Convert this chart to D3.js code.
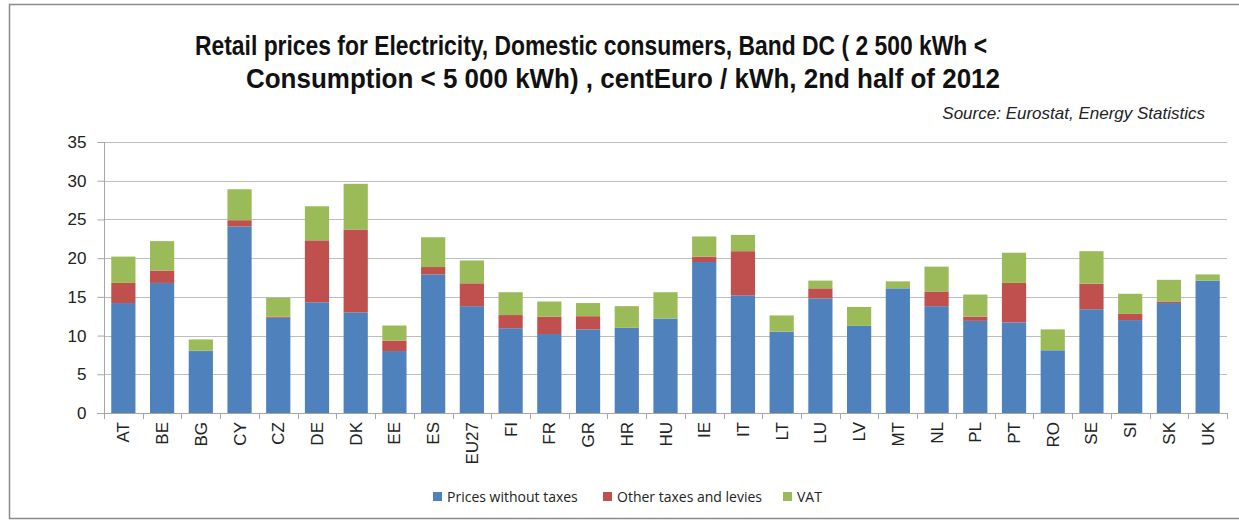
<!DOCTYPE html>
<html>
<head>
<meta charset="utf-8">
<script src="https://cdn.jsdelivr.net/npm/d3@7/dist/d3.min.js"></script>
<style>
  body { margin: 0; background: #fff; }
  svg { display: block; }
  .tick text { font-family: "Liberation Sans", Arial, sans-serif; fill: #222; }
</style>
</head>
<body>
<div id="main"></div>
<script>
// chart data (centEuro / kWh)
let countries = ['AT','BE','BG','CY','CZ','DE','DK','EE','ES','EU27','FI','FR','GR','HR','HU',
                 'IE','IT','LT','LU','LV','MT','NL','PL','PT','RO','SE','SI','SK','UK'];
let pricesWithoutTaxes = [14.2,16.8,8.0,24.1,12.3,14.3,13.0,8.0,17.9,13.8,10.95,10.2,10.8,11.0,12.2,
                          19.5,15.2,10.5,14.8,11.25,16.1,13.8,11.9,11.7,8.1,13.4,12.0,14.2,17.1];
let otherTaxes = [2.6,1.6,0.05,0.8,0.15,8.0,10.7,1.35,0.95,2.95,1.7,2.25,1.7,0,0,
                  0.7,5.7,0,1.3,0,0,1.9,0.55,5.1,0,3.3,0.8,0.2,0];
let vat = [3.4,3.8,1.45,4.0,2.45,4.4,5.9,1.95,3.85,2.95,2.95,1.95,1.7,2.8,3.4,
           2.6,2.1,2.1,1.0,2.45,0.9,3.2,2.85,3.9,2.7,4.2,2.6,2.8,0.8];
let seriesNames = ['Prices without taxes', 'Other taxes and levies', 'VAT'];
let seriesColors = ['#4f81bd', '#c0504d', '#9bbb59'];
let yTicks = [0, 5, 10, 15, 20, 25, 30, 35];

let width = 1239;
let height = 524;

let svg = d3.select('#main')
  .append('svg')
  .attr('width', width)
  .attr('height', height);

// outer frame like the pasted excel chart
svg.append('rect')
  .attr('x', 9.5).attr('y', 4.5)
  .attr('width', width + 10).attr('height', 514)
  .attr('fill', 'none')
  .attr('stroke', '#8a8a8a')
  .attr('stroke-width', 1.5);

// title
let title = svg.append('g')
  .attr('font-family', '"Liberation Sans Narrow", "Liberation Sans", Arial, sans-serif')
  .attr('font-weight', 'bold')
  .attr('font-size', 27)
  .attr('fill', '#111');

title.append('text')
  .attr('x', 195).attr('y', 55)
  .attr('textLength', 792)
  .attr('lengthAdjust', 'spacingAndGlyphs')
  .text('Retail prices for Electricity, Domestic consumers, Band DC ( 2 500 kWh <');

title.append('text')
  .attr('x', 246).attr('y', 88)
  .attr('textLength', 754)
  .attr('lengthAdjust', 'spacingAndGlyphs')
  .text('Consumption < 5 000 kWh) , centEuro / kWh, 2nd half of 2012');

svg.append('text')
  .attr('x', 1205).attr('y', 119)
  .attr('text-anchor', 'end')
  .attr('font-family', '"Liberation Sans", Arial, sans-serif')
  .attr('font-style', 'italic')
  .attr('font-size', 17)
  .attr('fill', '#222')
  .text('Source: Eurostat, Energy Statistics');

// plot area
let plotLeft = 104, plotRight = 1227, plotTop = 142, plotBottom = 413;

let x = d3.scaleBand()
  .domain(countries)
  .range([plotLeft, plotRight])
  .paddingInner(0.375)
  .paddingOuter(0.1875);

let y = d3.scaleLinear()
  .domain([0, 35])
  .range([plotBottom, plotTop]);

// gridlines
svg.append('g')
  .selectAll('line')
  .data(yTicks)
  .enter().append('line')
  .attr('x1', plotLeft).attr('x2', plotRight)
  .attr('y1', d => Math.round(y(d)) + 0.5).attr('y2', d => Math.round(y(d)) + 0.5)
  .attr('stroke', '#bdbdbd')
  .attr('stroke-width', 1.2);

// stacked bars
let rows = countries.map((c, i) => ({
  country: c,
  p0: pricesWithoutTaxes[i],
  p1: otherTaxes[i],
  p2: vat[i]
}));

let stack = d3.stack().keys(['p0', 'p1', 'p2']);
let layers = stack(rows);

svg.append('g')
  .selectAll('g')
  .data(layers)
  .enter().append('g')
  .attr('fill', (d, i) => seriesColors[i])
  .selectAll('rect')
  .data(d => d)
  .enter().append('rect')
  .attr('x', d => x(d.data.country))
  .attr('width', x.bandwidth())
  .attr('y', d => y(d[1]))
  .attr('height', d => y(d[0]) - y(d[1]));

// y axis
let yAxis = svg.append('g')
  .attr('transform', 'translate(' + (plotLeft + 0.5) + ',0)')
  .call(d3.axisLeft(y).tickValues(yTicks).tickSize(7).tickPadding(11));
yAxis.select('.domain').attr('stroke', '#a6a6a6').attr('d', 'M0,' + plotTop + 'V' + plotBottom);
yAxis.selectAll('.tick line').attr('stroke', '#a6a6a6');
yAxis.selectAll('.tick text').attr('font-size', 17);

// x axis: ticks between categories
let xTicks = d3.range(countries.length + 1).map(i => plotLeft + i * (plotRight - plotLeft) / countries.length);
let xAxisG = svg.append('g');
xAxisG.append('line')
  .attr('x1', plotLeft - 7).attr('x2', plotRight)
  .attr('y1', plotBottom + 0.5).attr('y2', plotBottom + 0.5)
  .attr('stroke', '#a6a6a6');
xAxisG.selectAll('line.tk')
  .data(xTicks)
  .enter().append('line')
  .attr('class', 'tk')
  .attr('x1', d => Math.round(d) + 0.5).attr('x2', d => Math.round(d) + 0.5)
  .attr('y1', plotBottom).attr('y2', plotBottom + 6)
  .attr('stroke', '#a6a6a6');

xAxisG.selectAll('text')
  .data(countries)
  .enter().append('text')
  .attr('transform', d => 'translate(' + (x(d) + x.bandwidth() / 2 + 6) + ',' + (plotBottom + 9) + ') rotate(-90)')
  .attr('text-anchor', 'end')
  .attr('font-family', '"Liberation Sans", Arial, sans-serif')
  .attr('font-size', 17)
  .attr('fill', '#222')
  .text(d => d);

// legend
let legendItems = [
  { name: seriesNames[0], color: seriesColors[0], x: 433 },
  { name: seriesNames[1], color: seriesColors[1], x: 603 },
  { name: seriesNames[2], color: seriesColors[2], x: 783 }
];

let legend = svg.append('g')
  .attr('font-family', '"Open Sans", "Liberation Sans", Arial, sans-serif')
  .attr('font-size', 14)
  .attr('fill', '#222');

let li = legend.selectAll('g')
  .data(legendItems)
  .enter().append('g')
  .attr('transform', d => 'translate(' + d.x + ',497)');

li.append('rect')
  .attr('x', 0).attr('y', -5)
  .attr('width', 9).attr('height', 9)
  .attr('fill', d => d.color);

li.append('text')
  .attr('x', 14).attr('y', 5)
  .text(d => d.name);
</script>
</body>
</html>
